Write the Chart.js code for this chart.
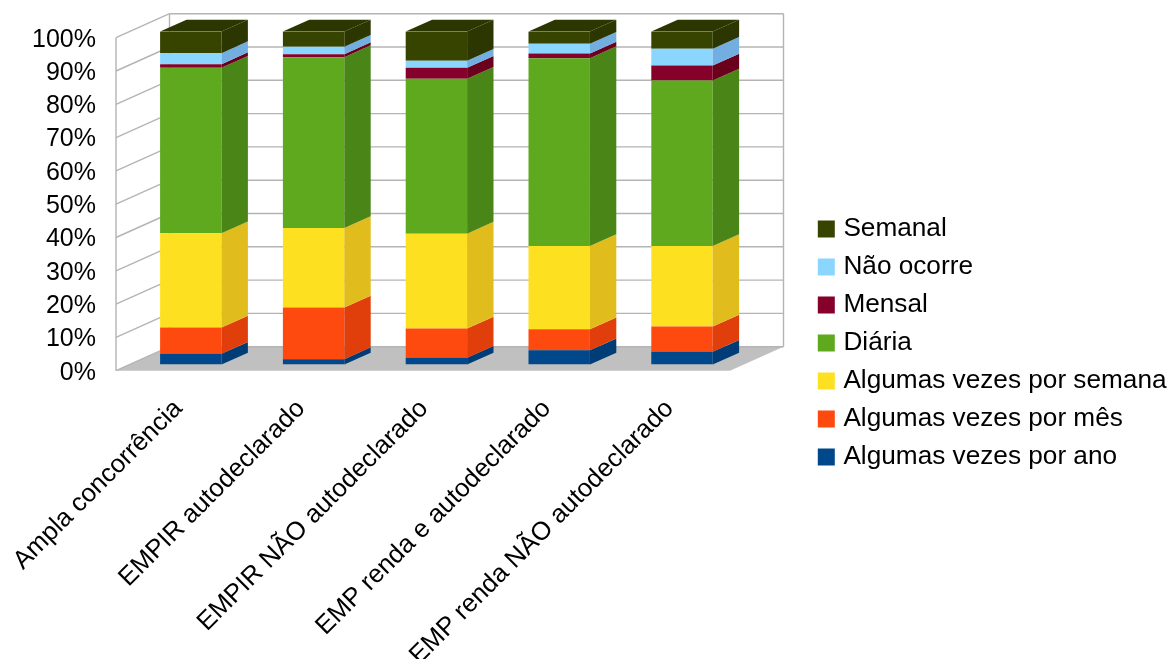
<!DOCTYPE html>
<html>
<head>
<meta charset="utf-8">
<script src="https://cdn.jsdelivr.net/npm/chart.js@4"></script>
<style>
  html, body { margin: 0; padding: 0; background: #fff; }
  #wrap { width: 1168px; height: 659px; }
</style>
</head>
<body>
<div id="wrap"><canvas id="chart"></canvas></div>
<script>
const categories = ['Ampla concorrência', 'EMPIR autodeclarado', 'EMPIR NÃO autodeclarado', 'EMP renda e autodeclarado', 'EMP renda NÃO autodeclarado'];

// percent share of each answer, bottom of the stack first
const porAno    = [3.2, 1.6, 2.0, 4.3, 3.8];
const porMes    = [7.9, 15.5, 8.8, 6.3, 7.6];
const porSemana = [28.3, 23.9, 28.5, 25.0, 24.2];
const diaria    = [49.7, 51.3, 46.5, 56.4, 49.7];
const mensal    = [1.1, 0.9, 3.3, 1.4, 4.5];
const naoOcorre = [3.3, 2.2, 2.1, 2.9, 5.0];
const semanal   = [6.5, 4.6, 8.8, 3.7, 5.2];

const yTicks = [0, 10, 20, 30, 40, 50, 60, 70, 80, 90, 100];

const FONT = 'Liberation Sans';
const GRID = '#b4b4b4';
const FLOOR = '#c0c0c0';

// how far the back wall sits behind the front plane, and where the bars stand
const WALL_DX = 53.5, WALL_DY = -24;
const BAR_DX = 13.4, BAR_DY = -6.2;
const DEPTH_DX = 26.4, DEPTH_DY = -11.8;

const box3d = {
  id: 'box3d',
  afterLayout(chart) {
    const lg = chart.legend;
    lg.left = 810.5;
    lg.top = 204;
    lg.right = 1168;
    lg.bottom = 659;
  },
  beforeDatasetsDraw(chart) {
    const { ctx, chartArea: a, scales: { y } } = chart;
    const line = (x1, y1, x2, y2) => {
      ctx.beginPath(); ctx.moveTo(x1, y1); ctx.lineTo(x2, y2); ctx.stroke();
    };
    ctx.save();
    // floor
    ctx.fillStyle = FLOOR;
    ctx.beginPath();
    ctx.moveTo(a.left, a.bottom);
    ctx.lineTo(a.left + WALL_DX, a.bottom + WALL_DY);
    ctx.lineTo(a.right + WALL_DX, a.bottom + WALL_DY);
    ctx.lineTo(a.right, a.bottom);
    ctx.closePath();
    ctx.fill();
    // walls
    ctx.strokeStyle = GRID;
    ctx.lineWidth = 1.4;
    yTicks.forEach(v => {
      const py = y.getPixelForValue(v);
      line(a.left, py, a.left + WALL_DX, py + WALL_DY);
      line(a.left + WALL_DX, py + WALL_DY, a.right + WALL_DX, py + WALL_DY);
    });
    line(a.left, a.top, a.left, a.bottom);
    line(a.left + WALL_DX, a.top + WALL_DY, a.left + WALL_DX, a.bottom + WALL_DY);
    line(a.right + WALL_DX, a.top + WALL_DY, a.right + WALL_DX, a.bottom + WALL_DY);
    ctx.restore();
    // bars stand in the middle of the depth
    ctx.save();
    ctx.translate(BAR_DX, BAR_DY);
  },
  afterDatasetsDraw(chart) {
    const { ctx } = chart;
    const quad = (pts, color) => {
      ctx.fillStyle = color;
      ctx.beginPath();
      pts.forEach((p, i) => i ? ctx.lineTo(p[0], p[1]) : ctx.moveTo(p[0], p[1]));
      ctx.closePath();
      ctx.fill();
    };
    const last = chart.data.datasets.length - 1;
    chart.data.datasets.forEach((ds, i) => {
      chart.getDatasetMeta(i).data.forEach(bar => {
        const l = bar.x - bar.width / 2, r = bar.x + bar.width / 2;
        quad([[r, bar.y], [r + DEPTH_DX, bar.y + DEPTH_DY], [r + DEPTH_DX, bar.base + DEPTH_DY], [r, bar.base]], ds.sideColor);
        if (i === last) {
          quad([[l, bar.y], [l + DEPTH_DX, bar.y + DEPTH_DY], [r + DEPTH_DX, bar.y + DEPTH_DY], [r, bar.y]], ds.sideColor);
        }
      });
    });
    ctx.restore();
  }
};

const series = (label, data, color, sideColor) => ({ label, data, backgroundColor: color, sideColor, borderWidth: 0 });

new Chart(document.getElementById('chart'), {
  type: 'bar',
  data: {
    labels: categories,
    datasets: [
      series('Algumas vezes por ano', porAno, '#00488b', '#003d76'),
      series('Algumas vezes por mês', porMes, '#fe4a0e', '#e03e0a'),
      series('Algumas vezes por semana', porSemana, '#fde120', '#e0bc1c'),
      series('Diária', diaria, '#5ea91e', '#4a8518'),
      series('Mensal', mensal, '#85002a', '#6a001c'),
      series('Não ocorre', naoOcorre, '#8bd6ff', '#72aee0'),
      series('Semanal', semanal, '#374400', '#2c3600')
    ]
  },
  plugins: [box3d],
  options: {
    responsive: true,
    maintainAspectRatio: false,
    animation: false,
    categoryPercentage: 1,
    barPercentage: 0.5,
    layout: { padding: { top: 37.7, right: 438, bottom: 0, left: 0 } },
    plugins: {
      tooltip: { enabled: false },
      legend: {
        position: 'chartArea',
        align: 'start',
        reverse: true,
        labels: {
          usePointStyle: true,
          pointStyle: 'rect',
          boxWidth: 8,
          boxHeight: 17,
          padding: 11.8,
          color: '#000',
          font: { family: FONT, size: 26.2 }
        }
      }
    },
    scales: {
      x: {
        stacked: true,
        afterFit(s) { s.height = 288.3; s.paddingLeft = 0; s.paddingRight = 0; },
        grid: { display: false, drawTicks: false },
        border: { display: false },
        ticks: {
          autoSkip: false,
          minRotation: 45,
          maxRotation: 45,
          padding: 23,
          labelOffset: 1,
          color: '#000',
          font: { family: FONT, size: 25.7 }
        }
      },
      y: {
        stacked: true,
        min: 0,
        max: 100,
        afterFit(s) { s.width = 116; },
        afterBuildTicks(s) { s.ticks = yTicks.map(value => ({ value })); },
        grid: { display: false, drawTicks: false },
        border: { display: false },
        ticks: {
          padding: 20,
          labelOffset: 2,
          color: '#000',
          font: { family: FONT, size: 25 },
          callback: v => v + '%'
        }
      }
    }
  }
});
</script>
</body>
</html>
